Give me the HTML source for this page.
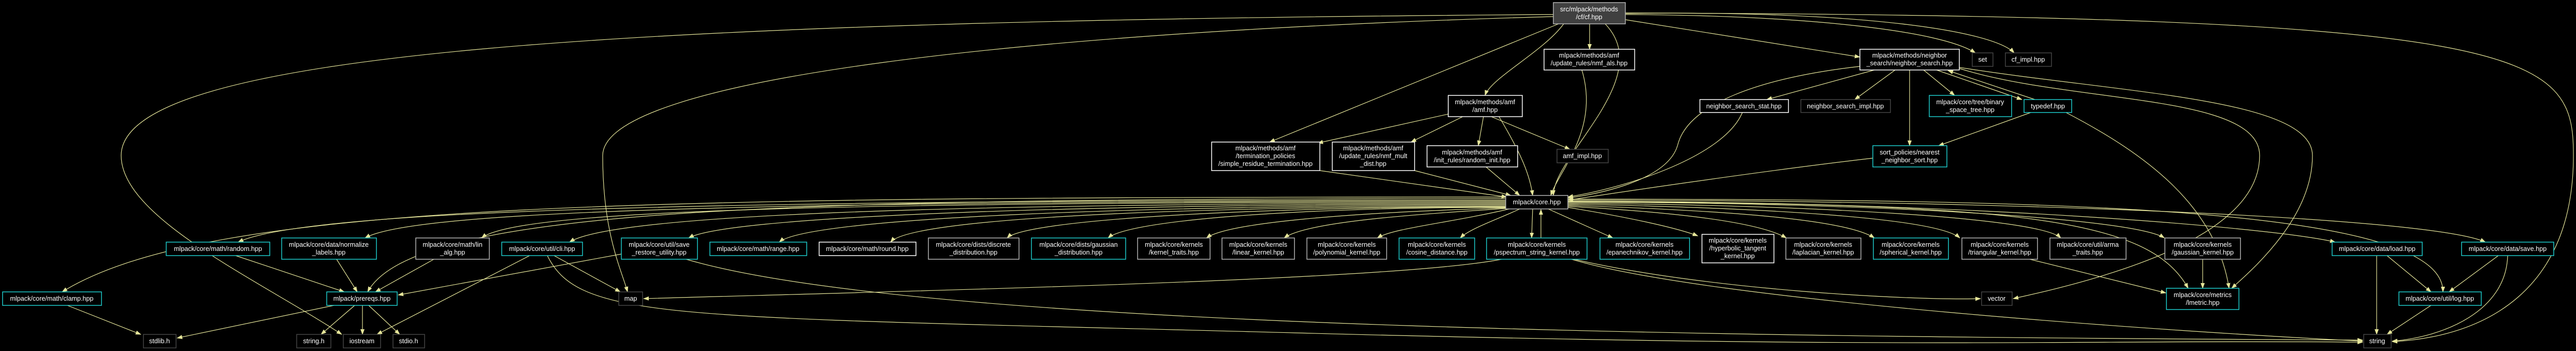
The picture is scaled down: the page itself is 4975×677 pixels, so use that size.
<!DOCTYPE html>
<html><head><meta charset="utf-8"><style>
html,body{margin:0;padding:0;background:#000;}
svg{display:block;}
text{font-family:"Liberation Sans",sans-serif;font-size:12.6px;fill:#fff;text-anchor:middle;}
.e{fill:none;stroke:#e6e69a;stroke-width:1.2;marker-end:url(#a);}
rect{fill:#000;stroke-width:1.5;}
.c{stroke:#1ecaca;}.g{stroke:#b4b4b4;}.w{stroke:#fff;}.d{stroke:#444;}
</style></head><body>
<svg width="4975" height="677" viewBox="0 0 4975 677" xmlns="http://www.w3.org/2000/svg">
<defs><marker id="a" markerWidth="11" markerHeight="8" refX="10" refY="4" orient="auto" markerUnits="userSpaceOnUse"><path d="M0,0L11,4L0,8z" fill="#e6e69a"/></marker></defs>
<g>
<!-- core fan -->
<path class="e" d="M2908,380 C1200,380 400,390 120,563"/>
<path class="e" d="M2908,383 C1500,383 800,400 710,563"/>
<path class="e" d="M2908,386 C1500,386 600,400 460,467"/>
<path class="e" d="M2908,388 C1500,388 800,405 705,459"/>
<path class="e" d="M2908,390 C1600,390 1000,405 930,459"/>
<path class="e" d="M2908,392 C1800,392 1180,415 1100,467"/>
<path class="e" d="M2908,394 C2000,394 1400,420 1330,459"/>
<path class="e" d="M2908,396 C2200,396 1560,420 1505,467"/>
<path class="e" d="M2908,398 C2300,398 1760,420 1720,467"/>
<path class="e" d="M2908,399 C2400,399 1980,425 1945,459"/>
<path class="e" d="M2908,400 C2500,400 2180,425 2140,459"/>
<path class="e" d="M2910,401 C2600,410 2370,430 2330,459"/>
<path class="e" d="M2912,402 C2700,415 2520,430 2480,459"/>
<path class="e" d="M2915,403 C2800,430 2690,440 2660,459"/>
<path class="e" d="M2935,403 C2900,420 2840,440 2820,459"/>
<path class="e" d="M2960,403 L2958,459"/>
<path class="e" d="M2976,459 L2976,404"/>
<path class="e" d="M2990,403 L3115,459"/>
<path class="e" d="M3028,400 C3150,420 3240,440 3279,455"/>
<path class="e" d="M3028,398 C3250,410 3400,430 3450,459"/>
<path class="e" d="M3028,396 C3300,405 3560,420 3620,459"/>
<path class="e" d="M3028,394 C3400,400 3740,420 3785,459"/>
<path class="e" d="M3028,392 C3500,395 3940,420 3980,459"/>
<path class="e" d="M3028,390 C3600,390 4120,420 4180,459"/>
<path class="e" d="M3028,388 C3800,388 4400,440 4510,467"/>
<path class="e" d="M3028,386 C3900,386 4700,420 4800,467"/>
<path class="e" d="M3028,384 C4000,384 4720,400 4718,563"/>
<path class="e" d="M3028,389 C3900,392 4150,420 4226,556"/>
<!-- middle to lower -->
<path class="e" d="M130,589 L272,645"/>
<path class="e" d="M455,493 L665,563"/>
<path class="e" d="M650,500 L690,563"/>
<path class="e" d="M838,500 L725,563"/>
<path class="e" d="M1200,490 L769,569"/>
<path class="e" d="M1023,493 L728,645"/>
<path class="e" d="M1070,493 L1198,563"/>
<path class="e" d="M1057,493 C1120,620 1300,610 2500,642 S4000,655 4563,660"/>
<path class="e" d="M645,589 L342,652"/>
<path class="e" d="M685,589 L620,645"/>
<path class="e" d="M700,589 L700,645"/>
<path class="e" d="M712,589 L772,645"/>
<path class="e" d="M3000,28 C1200,40 234,100 234,300 C234,420 500,540 660,645"/>
<path class="e" d="M3000,32 C2000,60 1164,150 1164,300 C1164,450 1200,520 1212,563"/>
<path class="e" d="M2900,500 C2700,540 1800,560 1243,576"/>
<path class="e" d="M3040,500 C3300,560 3700,580 3825,576"/>
<path class="e" d="M3035,500 C3300,580 4200,640 4563,658"/>
<path class="e" d="M1325,500 C1800,640 3500,650 4563,656"/>
<path class="e" d="M3920,500 L4183,565"/>
<path class="e" d="M4254,500 L4254,556"/>
<path class="e" d="M4610,493 L4695,563"/>
<path class="e" d="M4590,493 L4590,645"/>
<path class="e" d="M4825,493 L4730,563"/>
<path class="e" d="M4843,493 C4840,600 4720,650 4620,658"/>
<path class="e" d="M4695,589 L4610,645"/>
<path class="e" d="M3139,25 C4900,30 4970,100 4970,300 C4970,560 4800,650 4620,659"/>
<path class="e" d="M3990,217 C4150,300 4280,400 4305,556"/>
<path class="e" d="M3784,132 C4000,200 4364,180 4364,300 C4364,450 4100,530 3888,576"/>
<path class="e" d="M3784,130 C4100,180 4466,190 4466,300 C4466,420 4350,520 4310,556"/>
<!-- top -->
<path class="e" d="M3139,38 L3592,110"/>
<path class="e" d="M3139,28 C3500,30 3750,60 3815,102"/>
<path class="e" d="M3139,26 C3600,20 3850,60 3890,102"/>
<path class="e" d="M3070,46 L3070,95"/>
<path class="e" d="M3020,46 C2980,100 2880,150 2868,184"/>
<path class="e" d="M3010,46 L2452,274"/>
<path class="e" d="M3100,46 C3200,150 3000,300 3000,377"/>
<path class="e" d="M3055,135 C3090,250 3010,330 2995,377"/>
<path class="e" d="M2797,220 L2545,276"/>
<path class="e" d="M2825,225 L2725,274"/>
<path class="e" d="M2865,225 L2855,281"/>
<path class="e" d="M2880,225 L3032,288"/>
<path class="e" d="M2895,225 C2940,300 2955,340 2960,377"/>
<path class="e" d="M2549,329 L2910,380"/>
<path class="e" d="M2732,329 L2918,377"/>
<path class="e" d="M2870,322 L2935,377"/>
<path class="e" d="M3365,217 C3330,300 3150,360 3028,380"/>
<path class="e" d="M3592,128 C3400,150 3260,200 3240,280 C3220,350 3080,375 3028,382"/>
<path class="e" d="M3617,305 C3400,330 3100,375 3028,386"/>
<path class="e" d="M3620,135 L3412,192"/>
<path class="e" d="M3660,135 L3582,192"/>
<path class="e" d="M3715,135 L3775,184"/>
<path class="e" d="M3740,135 L3905,192"/>
<path class="e" d="M3930,192 L3762,136"/>
<path class="e" d="M3688,135 L3688,281"/>
<path class="e" d="M3922,217 L3744,281"/>
</g>
<g>
<rect x="3000" y="5" width="139" height="41" style="fill:#404040" class="g"/><text x="3069" y="22">src/mlpack/methods</text><text x="3069" y="37">/cf/cf.hpp</text>
<rect x="2982" y="95" width="175" height="40" class="w"/><text x="3069" y="111">mlpack/methods/amf</text><text x="3069" y="126">/update_rules/nmf_als.hpp</text>
<rect x="2797" y="184" width="143" height="41" class="w"/><text x="2868" y="201">mlpack/methods/amf</text><text x="2868" y="216">/amf.hpp</text>
<rect x="3592" y="95" width="192" height="40" class="w"/><text x="3688" y="111">mlpack/methods/neighbor</text><text x="3688" y="126">_search/neighbor_search.hpp</text>
<rect x="3809" y="102" width="40" height="26" class="d"/><text x="3829" y="119">set</text>
<rect x="3873" y="102" width="89" height="26" class="d"/><text x="3917" y="119">cf_impl.hpp</text>
<rect x="3283" y="192" width="171" height="25" class="w"/><text x="3368" y="209">neighbor_search_stat.hpp</text>
<rect x="3478" y="192" width="173" height="25" class="d"/><text x="3564" y="209">neighbor_search_impl.hpp</text>
<rect x="3726" y="184" width="159" height="41" class="c"/><text x="3805" y="201">mlpack/core/tree/binary</text><text x="3805" y="216">_space_tree.hpp</text>
<rect x="3909" y="192" width="92" height="25" class="c"/><text x="3955" y="209">typedef.hpp</text>
<rect x="3617" y="281" width="143" height="41" class="c"/><text x="3688" y="298">sort_policies/nearest</text><text x="3688" y="313">_neighbor_sort.hpp</text>
<rect x="2340" y="274" width="209" height="55" class="w"/><text x="2444" y="290">mlpack/methods/amf</text><text x="2444" y="305">/termination_policies</text><text x="2444" y="320">/simple_residue_termination.hpp</text>
<rect x="2573" y="274" width="159" height="55" class="w"/><text x="2652" y="290">mlpack/methods/amf</text><text x="2652" y="305">/update_rules/nmf_mult</text><text x="2652" y="320">_dist.hpp</text>
<rect x="2756" y="281" width="175" height="41" class="w"/><text x="2843" y="298">mlpack/methods/amf</text><text x="2843" y="313">/init_rules/random_init.hpp</text>
<rect x="3007" y="288" width="99" height="26" class="d"/><text x="3056" y="305">amf_impl.hpp</text>
<rect x="2908" y="377" width="120" height="26" class="g"/><text x="2968" y="394">mlpack/core.hpp</text>

<rect x="321" y="467" width="200" height="26" class="c"/><text x="421" y="484">mlpack/core/math/random.hpp</text>
<rect x="544" y="459" width="183" height="41" class="c"/><text x="635" y="476">mlpack/core/data/normalize</text><text x="635" y="491">_labels.hpp</text>
<rect x="803" y="459" width="142" height="41" class="g"/><text x="874" y="476">mlpack/core/math/lin</text><text x="874" y="491">_alg.hpp</text>
<rect x="969" y="467" width="156" height="26" class="c"/><text x="1047" y="484">mlpack/core/util/cli.hpp</text>
<rect x="1200" y="459" width="147" height="41" class="c"/><text x="1273" y="476">mlpack/core/util/save</text><text x="1273" y="491">_restore_utility.hpp</text>
<rect x="1371" y="467" width="187" height="26" class="c"/><text x="1464" y="484">mlpack/core/math/range.hpp</text>
<rect x="1582" y="467" width="187" height="26" class="w"/><text x="1675" y="484">mlpack/core/math/round.hpp</text>
<rect x="1793" y="459" width="175" height="41" class="g"/><text x="1880" y="476">mlpack/core/dists/discrete</text><text x="1880" y="491">_distribution.hpp</text>
<rect x="1992" y="459" width="182" height="41" class="c"/><text x="2083" y="476">mlpack/core/dists/gaussian</text><text x="2083" y="491">_distribution.hpp</text>
<rect x="2197" y="459" width="140" height="41" class="g"/><text x="2267" y="476">mlpack/core/kernels</text><text x="2267" y="491">/kernel_traits.hpp</text>
<rect x="2360" y="459" width="140" height="41" class="g"/><text x="2430" y="476">mlpack/core/kernels</text><text x="2430" y="491">/linear_kernel.hpp</text>
<rect x="2524" y="459" width="154" height="41" class="g"/><text x="2601" y="476">mlpack/core/kernels</text><text x="2601" y="491">/polynomial_kernel.hpp</text>
<rect x="2702" y="459" width="146" height="41" class="c"/><text x="2775" y="476">mlpack/core/kernels</text><text x="2775" y="491">/cosine_distance.hpp</text>
<rect x="2871" y="459" width="194" height="41" class="c"/><text x="2968" y="476">mlpack/core/kernels</text><text x="2968" y="491">/pspectrum_string_kernel.hpp</text>
<rect x="3090" y="459" width="173" height="41" class="c"/><text x="3176" y="476">mlpack/core/kernels</text><text x="3176" y="491">/epanechnikov_kernel.hpp</text>
<rect x="3287" y="452" width="139" height="55" class="w"/><text x="3356" y="468">mlpack/core/kernels</text><text x="3356" y="483">/hyperbolic_tangent</text><text x="3356" y="498">_kernel.hpp</text>
<rect x="3449" y="459" width="145" height="41" class="g"/><text x="3521" y="476">mlpack/core/kernels</text><text x="3521" y="491">/laplacian_kernel.hpp</text>
<rect x="3618" y="459" width="145" height="41" class="c"/><text x="3690" y="476">mlpack/core/kernels</text><text x="3690" y="491">/spherical_kernel.hpp</text>
<rect x="3789" y="459" width="146" height="41" class="g"/><text x="3862" y="476">mlpack/core/kernels</text><text x="3862" y="491">/triangular_kernel.hpp</text>
<rect x="3959" y="459" width="147" height="41" class="g"/><text x="4032" y="476">mlpack/core/util/arma</text><text x="4032" y="491">_traits.hpp</text>
<rect x="4181" y="459" width="146" height="41" class="g"/><text x="4254" y="476">mlpack/core/kernels</text><text x="4254" y="491">/gaussian_kernel.hpp</text>
<rect x="4504" y="467" width="174" height="26" class="c"/><text x="4591" y="484">mlpack/core/data/load.hpp</text>
<rect x="4754" y="467" width="178" height="26" class="c"/><text x="4843" y="484">mlpack/core/data/save.hpp</text>

<rect x="5" y="563" width="191" height="26" class="c"/><text x="100" y="580">mlpack/core/math/clamp.hpp</text>
<rect x="631" y="563" width="136" height="26" class="c"/><text x="699" y="580">mlpack/prereqs.hpp</text>
<rect x="1195" y="563" width="46" height="26" class="d"/><text x="1218" y="580">map</text>
<rect x="3827" y="563" width="59" height="26" class="d"/><text x="3856" y="580">vector</text>
<rect x="4184" y="556" width="140" height="41" class="c"/><text x="4254" y="573">mlpack/core/metrics</text><text x="4254" y="588">/lmetric.hpp</text>
<rect x="4633" y="563" width="159" height="26" class="c"/><text x="4712" y="580">mlpack/core/util/log.hpp</text>
<rect x="277" y="645" width="63" height="26" class="d"/><text x="308" y="662">stdlib.h</text>
<rect x="573" y="645" width="66" height="26" class="d"/><text x="606" y="662">string.h</text>
<rect x="663" y="645" width="72" height="26" class="d"/><text x="699" y="662">iostream</text>
<rect x="759" y="645" width="61" height="26" class="d"/><text x="789" y="662">stdio.h</text>
<rect x="4565" y="645" width="53" height="26" class="d"/><text x="4591" y="662">string</text>
</g>
</svg>
</body></html>
